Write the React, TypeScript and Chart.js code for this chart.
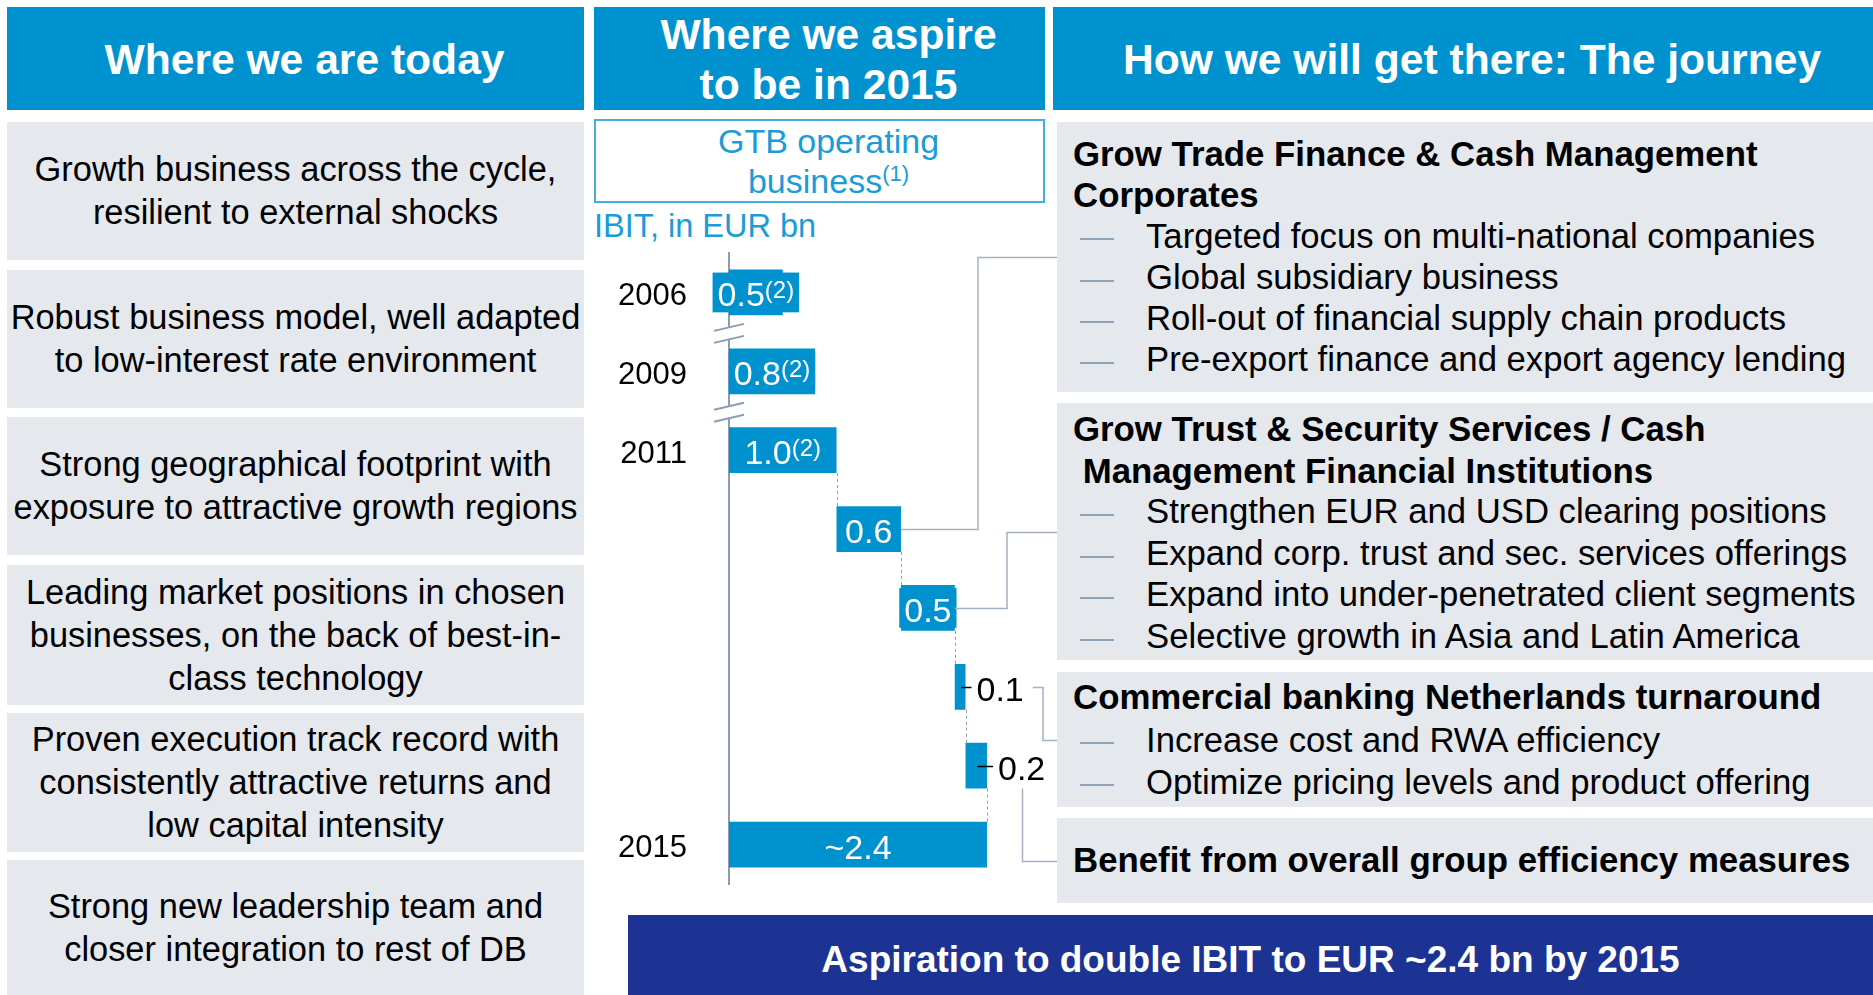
import React, { useEffect, useRef } from 'react';
import { Chart, registerables } from 'chart.js';

Chart.register(...registerables);

// ---------------- data ----------------
const categories = ['2006', '2009', '2011', 'TF & CM Corporates', 'TSS / CM FI', 'CB Netherlands', 'Group efficiency', '2015'];
const tickLabels = ['2006', '2009', '2011', '', '', '', '', '2015'];
const values = [0.5, 0.8, 1.0, 0.6, 0.5, 0.1, 0.2, 2.4];
const isTotal = [true, true, true, false, false, false, false, true];
const valueLabels = ['0.5', '0.8', '1.0', '0.6', '0.5', '0.1', '0.2', '~2.4'];
const labelNotes = ['(2)', '(2)', '(2)', '', '', '', '', ''];
const labelInside = [true, true, true, true, true, false, false, true];
const axisBreaksAfter = [0, 1];

const leftItems = [
  ['Growth business across the cycle,', 'resilient to external shocks'],
  ['Robust business model, well adapted', 'to low-interest rate environment'],
  ['Strong geographical footprint with', 'exposure to attractive growth regions'],
  ['Leading market positions in chosen', 'businesses, on the back of best-in-', 'class technology'],
  ['Proven execution track record with', 'consistently attractive returns and', 'low capital intensity'],
  ['Strong new leadership team and', 'closer integration to rest of DB'],
];

const rightHeadings = [
  ['Grow Trade Finance & Cash Management', 'Corporates'],
  ['Grow Trust & Security Services / Cash', ' Management Financial Institutions'],
  ['Commercial banking Netherlands turnaround'],
  ['Benefit from overall group efficiency measures'],
];
const rightBullets = [
  ['Targeted focus on multi-national companies', 'Global subsidiary business', 'Roll-out of financial supply chain products', 'Pre-export finance and export agency lending'],
  ['Strengthen EUR and USD clearing positions', 'Expand corp. trust and sec. services offerings', 'Expand into under-penetrated client segments', 'Selective growth in Asia and Latin America'],
  ['Increase cost and RWA efficiency', 'Optimize pricing levels and product offering'],
  [],
];
// which waterfall bar links to which right box
const connectorBars = [3, 4, 5, 6];

// ---------------- layout / style ----------------
const FONT = '"Liberation Sans", Arial, Helvetica, sans-serif';
const BLUE = '#0092cf';
const LIGHT_BLUE_TEXT = '#1b9bd7';
const GRAY_BOX = '#e5e8ed';
const NAVY = '#1c3394';
const AXIS_GRAY = '#8c9db2';
const LINK_GRAY = '#a3b1c1';
const W = 1873;
const H = 995;

const leftBoxTops = [122, 270, 417, 565, 713, 860];
const leftBoxBottoms = [260, 408, 555, 705, 852, 995];
const rightBoxLayout = [
  { top: 122, bottom: 392, padTop: 11, pitch: 41.3 },
  { top: 403, bottom: 660, padTop: 5, pitch: 41.6 },
  { top: 672, bottom: 807, padTop: 4, pitch: 42.5 },
  { top: 818, bottom: 903, padTop: 21, pitch: 41.3 },
];
const RIGHT_BOX_LEFT = 1057;
const connectorElbowX = [978, 1007, 1043, null];

const PLOT_LEFT_PAD = 590;
const Y_AXIS_W = 139;
const PLOT_RIGHT = 1051.5;
const PLOT_TOP = 253;
const PLOT_BOTTOM = 884;

const ranges = (() => {
  let run = 0;
  return values.map((v, i) => {
    if (isTotal[i]) {
      run = v;
      return [0, v];
    }
    const r = [run, run + v];
    run += v;
    return r;
  });
})();

const overlayPlugin = {
  id: 'waterfallOverlay',
  afterDraw(chart: any) {
    const ctx = chart.ctx;
    const meta = chart.getDatasetMeta(0);
    const bars = meta.data;
    const xs = chart.scales.x;
    const ys = chart.scales.y;
    const axisX = chart.chartArea.left;
    ctx.save();

    // dashed step connectors
    ctx.strokeStyle = '#8f9fb2';
    ctx.lineWidth = 1;
    ctx.setLineDash([3, 3]);
    for (let i = 2; i < bars.length - 1; i++) {
      const x = Math.round(xs.getPixelForValue(ranges[i][1])) + 0.5;
      const y1 = bars[i].y + bars[i].height / 2;
      const y2 = bars[i + 1].y - bars[i + 1].height / 2;
      ctx.beginPath();
      ctx.moveTo(x, y1);
      ctx.lineTo(x, y2);
      ctx.stroke();
    }
    ctx.setLineDash([]);

    // axis breaks
    axisBreaksAfter.forEach((i) => {
      const c = (ys.getPixelForValue(i) + ys.getPixelForValue(i + 1)) / 2 + 2;
      ctx.fillStyle = '#ffffff';
      ctx.beginPath();
      ctx.moveTo(axisX - 15, c - 3);
      ctx.lineTo(axisX + 15, c - 10);
      ctx.lineTo(axisX + 15, c + 2);
      ctx.lineTo(axisX - 15, c + 9);
      ctx.closePath();
      ctx.fill();
      ctx.strokeStyle = AXIS_GRAY;
      ctx.lineWidth = 2;
      ctx.beginPath();
      ctx.moveTo(axisX - 15, c - 3);
      ctx.lineTo(axisX + 15, c - 10);
      ctx.moveTo(axisX - 15, c + 9);
      ctx.lineTo(axisX + 15, c + 2);
      ctx.stroke();
    });

    // labels
    const labelEnds: number[] = [];
    bars.forEach((bar: any, i: number) => {
      const main = valueLabels[i];
      const note = labelNotes[i];
      ctx.font = `34px ${FONT}`;
      const mw = ctx.measureText(main).width;
      ctx.font = `24px ${FONT}`;
      const nw = note ? ctx.measureText(note).width : 0;
      const tw = mw + nw;
      const left = Math.min(bar.x, bar.base);
      const right = Math.max(bar.x, bar.base);
      const baseline = bar.y + 14;
      let x0;
      if (labelInside[i]) {
        const cx = (left + right) / 2;
        if (tw + 10 > right - left) {
          ctx.fillStyle = BLUE;
          ctx.fillRect(cx - tw / 2 - 5, bar.y - bar.height / 2 + 3, tw + 10, bar.height - 6);
        }
        x0 = cx - tw / 2;
        ctx.fillStyle = '#ffffff';
      } else {
        const cx = (left + right) / 2;
        x0 = right + 11;
        ctx.strokeStyle = '#000000';
        ctx.lineWidth = 1.5;
        ctx.beginPath();
        ctx.moveTo(cx + 1, Math.round(bar.y) + 0.5);
        ctx.lineTo(x0 - 5, Math.round(bar.y) + 0.5);
        ctx.stroke();
        ctx.fillStyle = '#000000';
      }
      ctx.textAlign = 'left';
      ctx.textBaseline = 'alphabetic';
      ctx.font = `34px ${FONT}`;
      ctx.fillText(main, x0, baseline);
      if (note) {
        ctx.font = `24px ${FONT}`;
        ctx.fillText(note, x0 + mw, baseline - 8);
      }
      labelEnds[i] = x0 + tw;
    });

    // connectors to the right-hand boxes
    ctx.strokeStyle = LINK_GRAY;
    ctx.lineWidth = 1.5;
    connectorBars.forEach((bi, k) => {
      const bar = bars[bi];
      const box = rightBoxLayout[k];
      const ty = Math.round((box.top + box.bottom) / 2) + 0.5;
      const elbow = connectorElbowX[k];
      ctx.beginPath();
      if (labelInside[bi]) {
        const sy = Math.round(bar.y) + 0.5;
        ctx.moveTo(Math.max(bar.x, bar.base), sy);
        ctx.lineTo(elbow as number, sy);
        ctx.lineTo(elbow as number, ty);
        ctx.lineTo(RIGHT_BOX_LEFT, ty);
      } else if (elbow !== null) {
        const sy = Math.round(bar.y) + 0.5;
        ctx.moveTo(labelEnds[bi] + 9, sy);
        ctx.lineTo(elbow, sy);
        ctx.lineTo(elbow, ty);
        ctx.lineTo(RIGHT_BOX_LEFT, ty);
      } else {
        const right = Math.max(bar.x, bar.base);
        const lx = Math.round((right + 11 + labelEnds[bi]) / 2) + 0.5;
        ctx.moveTo(lx, bar.y + bar.height / 2);
        ctx.lineTo(lx, ty);
        ctx.lineTo(RIGHT_BOX_LEFT, ty);
      }
      ctx.stroke();
    });

    ctx.restore();
  },
};

function WaterfallChart() {
  const ref = useRef<HTMLCanvasElement | null>(null);
  useEffect(() => {
    if (!ref.current) return;
    const chart = new Chart(ref.current, {
      type: 'bar',
      data: {
        labels: categories,
        datasets: [
          {
            data: ranges as any,
            backgroundColor: BLUE,
            borderWidth: 0,
            borderSkipped: false,
            barPercentage: 0.58,
            categoryPercentage: 1,
          },
        ],
      },
      options: {
        indexAxis: 'y',
        responsive: false,
        animation: false,
        devicePixelRatio: 1,
        layout: {
          padding: {
            left: PLOT_LEFT_PAD,
            right: W - PLOT_RIGHT,
            top: PLOT_TOP,
            bottom: H - PLOT_BOTTOM,
          },
        },
        plugins: { legend: { display: false }, tooltip: { enabled: false }, title: { display: false } },
        scales: {
          x: { type: 'linear', min: 0, max: 3, display: false },
          y: {
            type: 'category',
            grid: { display: false, drawTicks: false },
            border: { display: true, color: AXIS_GRAY, width: 2 },
            ticks: {
              color: '#000000',
              font: { family: FONT, size: 31 },
              padding: 42,
              labelOffset: 4,
              callback: (_v: any, i: number) => tickLabels[i],
            },
            afterFit: (scale: any) => {
              scale.width = Y_AXIS_W;
            },
          },
        },
      },
      plugins: [overlayPlugin],
    } as any);
    return () => chart.destroy();
  }, []);
  return (
    <canvas
      ref={ref}
      width={W}
      height={H}
      style={{ position: 'absolute', left: 0, top: 0, width: W, height: H, pointerEvents: 'none' }}
    />
  );
}

const abs = (l: number, t: number, w: number, h: number): React.CSSProperties => ({
  position: 'absolute',
  left: l,
  top: t,
  width: w,
  height: h,
  boxSizing: 'border-box',
});

function Header({ l, w, lines }: { l: number; w: number; lines: string[] }) {
  return (
    <div
      style={{
        ...abs(l, 7, w, 103),
        background: BLUE,
        color: '#fff',
        fontWeight: 'bold',
        fontSize: 42.6,
        lineHeight: '50px',
        display: 'flex',
        flexDirection: 'column',
        alignItems: 'center',
        justifyContent: 'center',
        paddingLeft: 18,
        whiteSpace: 'pre',
      }}
    >
      {lines.map((t, i) => (
        <div key={i}>{t}</div>
      ))}
    </div>
  );
}

export default function App() {
  return (
    <div
      style={{
        position: 'absolute',
        left: 0,
        top: 0,
        width: W,
        height: H,
        overflow: 'hidden',
        background: '#fff',
        fontFamily: FONT,
        color: '#000',
      }}
    >
      <Header l={7} w={577} lines={['Where we are today']} />
      <Header l={594} w={451} lines={['Where we aspire', 'to be in 2015']} />
      <Header l={1053} w={820} lines={['How we will get there: The journey']} />

      {leftItems.map((lines, i) => (
        <div
          key={i}
          style={{
            ...abs(7, leftBoxTops[i], 577, leftBoxBottoms[i] - leftBoxTops[i]),
            background: GRAY_BOX,
            display: 'flex',
            flexDirection: 'column',
            alignItems: 'center',
            justifyContent: 'center',
            fontSize: 34.4,
            lineHeight: '43px',
            whiteSpace: 'pre',
          }}
        >
          {lines.map((t, j) => (
            <div key={j}>{t}</div>
          ))}
        </div>
      ))}

      <div
        style={{
          ...abs(594, 119, 451, 84),
          border: '2px solid #45ade0',
          color: LIGHT_BLUE_TEXT,
          fontSize: 34,
          lineHeight: '40px',
          textAlign: 'center',
          paddingLeft: 18,
        }}
      >
        <div>GTB operating</div>
        <div>
          business
          <span style={{ fontSize: 22, position: 'relative', top: -12, lineHeight: 0 }}>(1)</span>
        </div>
      </div>
      <div style={{ position: 'absolute', left: 594, top: 206, color: LIGHT_BLUE_TEXT, fontSize: 32.5, lineHeight: '40px', whiteSpace: 'pre' }}>
        IBIT, in EUR bn
      </div>

      {rightBoxLayout.map((b, k) => (
        <div
          key={k}
          style={{
            ...abs(RIGHT_BOX_LEFT, b.top, W - RIGHT_BOX_LEFT, b.bottom - b.top),
            background: GRAY_BOX,
            paddingTop: b.padTop,
            whiteSpace: 'pre',
          }}
        >
          {rightHeadings[k].map((t, j) => (
            <div key={'h' + j} style={{ fontWeight: 'bold', fontSize: 34.8, height: b.pitch, lineHeight: b.pitch + 'px', paddingLeft: 16 }}>
              {t}
            </div>
          ))}
          {rightBullets[k].map((t, j) => (
            <div key={'b' + j} style={{ position: 'relative', fontSize: 34.7, height: b.pitch, lineHeight: b.pitch + 'px', paddingLeft: 89 }}>
              <div style={{ position: 'absolute', left: 23, top: b.pitch / 2 + 2, width: 34, height: 2, background: '#8ea2b8' }} />
              {t}
            </div>
          ))}
        </div>
      ))}

      <div
        style={{
          ...abs(628, 915, W - 628, H - 915),
          background: NAVY,
          color: '#fff',
          fontWeight: 'bold',
          fontSize: 37,
          display: 'flex',
          alignItems: 'center',
          justifyContent: 'center',
          paddingTop: 9,
          whiteSpace: 'pre',
        }}
      >
        Aspiration to double IBIT to EUR ~2.4 bn by 2015
      </div>

      <WaterfallChart />
    </div>
  );
}
